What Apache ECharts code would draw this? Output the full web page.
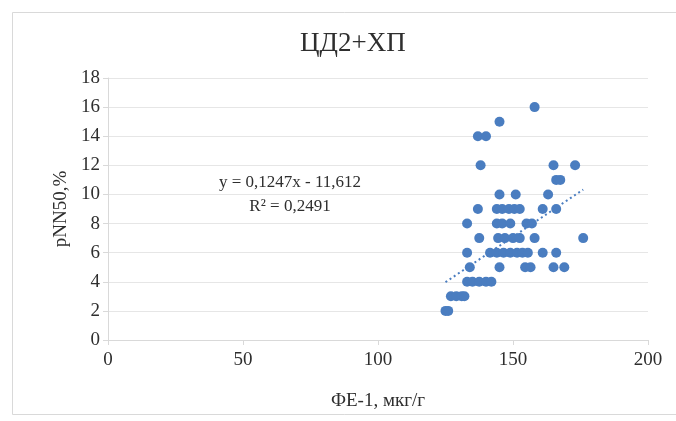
<!DOCTYPE html>
<html>
<head>
<meta charset="utf-8">
<script src="https://cdn.jsdelivr.net/npm/echarts@6/dist/echarts.min.js"></script>
<style>
html,body{margin:0;padding:0;background:#fff;}
#c{width:676px;height:421px;}
</style>
</head>
<body>
<div id="c"></div>
<script>
// Data (x: ФЕ-1, мкг/г; y: pNN50,%)
const xValues = [
  158,
  145,
  137, 140,
  138, 165, 173,
  166, 167.5,
  145, 151, 163,
  137, 144, 146, 148.5, 150.5, 152.5, 161, 166,
  133, 144, 146, 149, 155, 157,
  137.5, 144.5, 147, 150, 152.5, 158, 176,
  133, 141.5, 144, 146.5, 149, 151.5, 153.5, 155.5, 161, 166,
  134, 145, 154.5, 156.5, 165, 169,
  133, 135, 137.5, 140, 142,
  127, 129, 131, 132,
  125, 126
];
const yValues = [
  16,
  15,
  14, 14,
  12, 12, 12,
  11, 11,
  10, 10, 10,
  9, 9, 9, 9, 9, 9, 9, 9,
  8, 8, 8, 8, 8, 8,
  7, 7, 7, 7, 7, 7, 7,
  6, 6, 6, 6, 6, 6, 6, 6, 6, 6,
  5, 5, 5, 5, 5, 5,
  4, 4, 4, 4, 4,
  3, 3, 3, 3,
  2, 2
];
const trendSlope = 0.1247;
const trendIntercept = -11.612;
const titleText = 'ЦД2+ХП';
const xAxisName = 'ФЕ-1, мкг/г';
const yAxisName = 'pNN50,%';
const equationLines = ['y = 0,1247x - 11,612', 'R² = 0,2491'];

const points = xValues.map((x, i) => [x, yValues[i]]);
const xMin = Math.min(...xValues), xMax = Math.max(...xValues);
const trend = [[xMin, trendSlope * xMin + trendIntercept], [xMax, trendSlope * xMax + trendIntercept]];

const serif = "'Liberation Serif', 'Times New Roman', serif";
const txt = '#2e2e2e';
const blue = '#4a7dc0';

const chart = echarts.init(document.getElementById('c'), null, {renderer: 'canvas'});
chart.setOption({
  animation: false,
  backgroundColor: '#fff',
  title: {
    text: titleText, left: 295, top: 25,
    textStyle: {fontFamily: serif, fontSize: 27, fontWeight: 'normal', color: txt}
  },
  graphic: [
    {type: 'rect', left: 10, top: 10, shape: {width: 680, height: 402},
     style: {fill: 'none', stroke: '#d9d9d9', lineWidth: 1}, silent: true},
    {type: 'text', x: 290, y: 183, style: {text: equationLines[0], fontFamily: serif, fontSize: 17, fill: txt, align: 'center', verticalAlign: 'middle'}},
    {type: 'text', x: 290, y: 207, style: {text: equationLines[1], fontFamily: serif, fontSize: 17, fill: txt, align: 'center', verticalAlign: 'middle'}}
  ],
  grid: {left: 108, right: 28, top: 78, bottom: 81, containLabel: false},
  xAxis: {
    type: 'value', min: 0, max: 200, interval: 50,
    name: xAxisName, nameLocation: 'middle', nameGap: 52,
    nameTextStyle: {fontFamily: serif, fontSize: 19, color: txt},
    axisLine: {show: true, lineStyle: {color: '#d9d9d9'}},
    axisTick: {show: true, length: 5, lineStyle: {color: '#d9d9d9'}},
    axisLabel: {fontFamily: serif, fontSize: 19, color: txt, margin: 11},
    splitLine: {show: false}
  },
  yAxis: {
    type: 'value', min: 0, max: 18, interval: 2,
    name: yAxisName, nameLocation: 'middle', nameGap: 37, nameRotate: 90,
    nameTextStyle: {fontFamily: serif, fontSize: 19, color: txt},
    axisLine: {show: true, lineStyle: {color: '#d9d9d9'}},
    axisTick: {show: true, length: 5, lineStyle: {color: '#d9d9d9'}},
    axisLabel: {fontFamily: serif, fontSize: 19, color: txt, margin: 8},
    splitLine: {show: true, lineStyle: {color: '#e6e6e6', width: 1}}
  },
  series: [
    {type: 'scatter', data: points, symbol: 'circle', symbolSize: 10,
     itemStyle: {color: blue, opacity: 1}, z: 3},
    {type: 'line', data: trend, showSymbol: false, symbol: 'none',
     lineStyle: {color: blue, width: 2, type: [2, 3]}, z: 2}
  ]
});
</script>
</body>
</html>
